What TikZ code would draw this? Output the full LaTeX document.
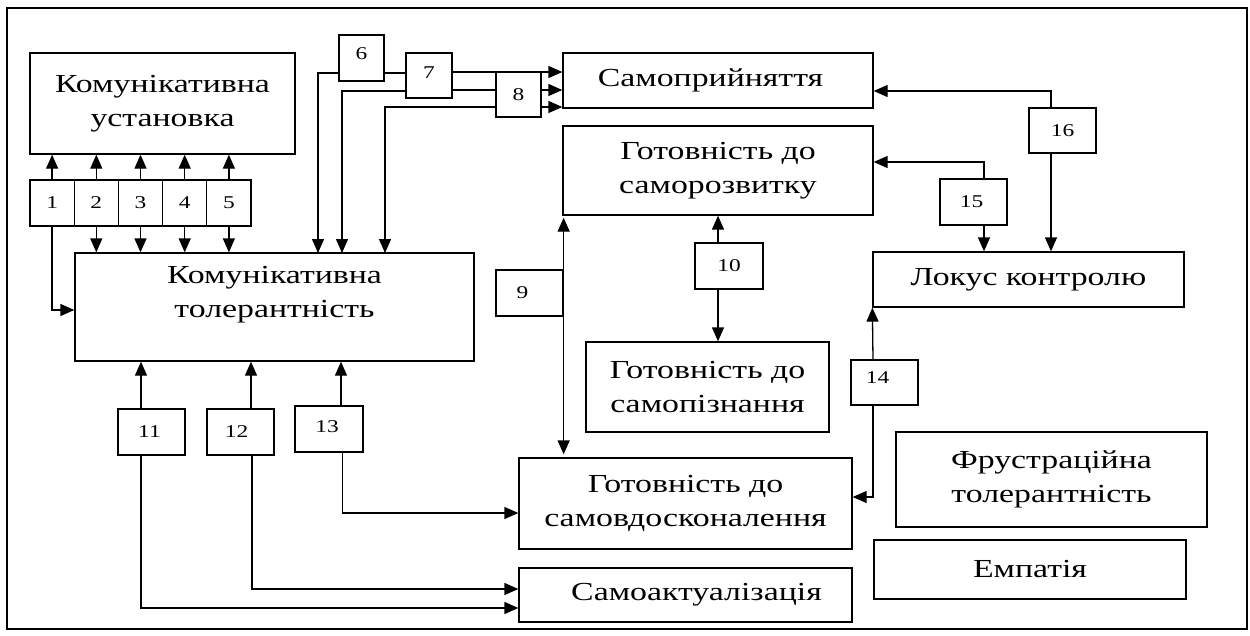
\documentclass[tikz,border=0pt]{standalone}
\usepackage{fontspec}
\setmainfont{Liberation Serif}[FakeStretch=1.3]
\usetikzlibrary{arrows.meta}
\begin{document}
\begin{tikzpicture}[x=1pt,y=-1pt,
  bx/.style={draw, line width=1.3pt, inner sep=0pt, align=center, font=\fontsize{26}{34}\selectfont},
  nb/.style={draw, line width=1.3pt, inner sep=0pt, align=center, font=\fontsize{18}{20}\selectfont},
  ln/.style={line width=1.3pt},
  arr/.style={line width=1.3pt, -{Triangle[length=14pt,width=12pt]}}]
\useasboundingbox (0,0) rectangle (1250,635);
\node[draw, line width=1.3pt, minimum width=1240pt, minimum height=621pt] (frame) at (627,318.5) {};
% big boxes
\node[bx, minimum width=265pt, minimum height=101pt] (ust) at (162.5,103.5) {Комунікативна\\установка};
\node[bx, minimum width=399pt, minimum height=108pt] (tol) at (274.5,307) {Комунікативна\\толерантність\rule[-30pt]{0pt}{0pt}};
\node[bx, minimum width=310pt, minimum height=55pt] (samopr) at (718,80.5) {\hspace*{-15pt}Самоприйняття};
\node[bx, minimum width=310pt, minimum height=89pt] (rozv) at (718,170.5) {Готовність до\\саморозвитку};
\node[bx, minimum width=243pt, minimum height=90pt] (piz) at (707.5,387) {Готовність до\\самопізнання};
\node[bx, minimum width=333pt, minimum height=91pt] (vdos) at (685.5,503.5) {Готовність до\\самовдосконалення\rule[-6pt]{0pt}{0pt}};
\node[bx, minimum width=333pt, minimum height=54pt] (akt) at (685.5,595) {\hspace*{22pt}Самоактуалізація};
\node[bx, minimum width=311pt, minimum height=55pt] (lok) at (1028.5,279.5) {Локус контролю};
\node[bx, minimum width=311pt, minimum height=95pt] (frus) at (1051.5,479.5) {Фрустраційна\\толерантність};
\node[bx, minimum width=312pt, minimum height=59pt] (emp) at (1030,569.5) {Емпатія};
% number boxes
\node[nb, minimum width=44.2pt, minimum height=46pt] (b1) at (52.1,203) {1};
\node[nb, minimum width=44.2pt, minimum height=46pt] (b2) at (96.3,203) {2};
\node[nb, minimum width=44.2pt, minimum height=46pt] (b3) at (140.5,203) {3};
\node[nb, minimum width=44.2pt, minimum height=46pt] (b4) at (184.7,203) {4};
\node[nb, minimum width=44.2pt, minimum height=46pt] (b5) at (228.9,203) {5};
\node[nb, minimum width=45pt, minimum height=46pt] (b6) at (361.5,58) {\raisebox{8pt}{6}};
\node[nb, minimum width=46pt, minimum height=45pt] (b7) at (429,75.5) {\raisebox{6pt}{7}};
\node[nb, minimum width=45pt, minimum height=45pt] (b8) at (518.5,94.5) {8};
\node[nb, minimum width=67pt, minimum height=46pt] (b9) at (529.5,293) {\hspace*{-14pt}9};
\node[nb, minimum width=68pt, minimum height=46pt] (b10) at (729,266) {10};
\node[nb, minimum width=67pt, minimum height=46pt] (b11) at (151.5,432) {\hspace*{-4pt}11};
\node[nb, minimum width=67pt, minimum height=46pt] (b12) at (240.5,432) {\hspace*{-8pt}12};
\node[nb, minimum width=68pt, minimum height=46pt] (b13) at (329,429) {\hspace*{-4pt}13\rule[-4pt]{0pt}{0pt}};
\node[nb, minimum width=67pt, minimum height=45pt] (b14) at (884.5,382.5) {\hspace*{-14pt}14\rule[-10pt]{0pt}{0pt}};
\node[nb, minimum width=67pt, minimum height=46pt] (b15) at (973.5,202) {\hspace*{-4pt}15};
\node[nb, minimum width=67pt, minimum height=45pt] (b16) at (1062.5,130.5) {16};
% free ends on top of tolerance box
\coordinate (t6) at (318,253);
\coordinate (t7) at (342,253);
\coordinate (t8) at (385,253);
% 1-5
\foreach \b in {b1,b2,b3,b4,b5}{\draw[arr] (\b.north) -- (\b.north |- ust.south);}
\foreach \b in {b2,b3,b4,b5}{\draw[arr] (\b.south) -- (\b.south |- tol.north);}
\draw[arr] (b1.south) |- ([yshift=-3pt]tol.west);
% 6,7,8
\draw[arr] ([yshift=-15pt]b6.west) -| (t6);
\draw[ln] ([yshift=-15pt]b6.east) -- ([yshift=-15pt]b6.east -| b7.west);
\draw[arr] ([yshift=3.5pt]b7.east) -- ([yshift=3.5pt]b7.east -| samopr.west);
\draw[arr] ([yshift=-15.5pt]b7.west) -| (t7);
\draw[ln] ([yshift=-14.5pt]b7.east) -- ([yshift=-14.5pt]b7.east -| b8.west);
\draw[arr] ([yshift=4.5pt]b8.east) -- ([yshift=4.5pt]b8.east -| samopr.west);
\draw[arr] ([yshift=-12.5pt]b8.west) -| (t8);
\draw[arr] ([yshift=-12.5pt]b8.east) -- ([yshift=-12.5pt]b8.east -| samopr.west);
% 9, 10
\draw[arr] (b9.east) -- ([yshift=-2pt]b9.east |- rozv.south);
\draw[arr] (b9.east) -- ([yshift=3pt]b9.east |- vdos.north);
\draw[arr] ([xshift=-11pt]b10.north) -- ([xshift=-11pt]b10.north |- rozv.south);
\draw[arr] ([xshift=-11pt]b10.south) -- ([xshift=-11pt]b10.south |- piz.north);
% 11, 12, 13
\draw[arr] ([xshift=-10.5pt]b11.north) -- ([xshift=-10.5pt]b11.north |- tol.south);
\draw[arr] ([xshift=-10.5pt]b11.south) |- ([yshift=-13pt]akt.west);
\draw[arr] ([xshift=10.5pt]b12.north) -- ([xshift=10.5pt]b12.north |- tol.south);
\draw[arr] ([xshift=11.5pt]b12.south) |- ([yshift=6pt]akt.west);
\draw[arr] ([xshift=12pt]b13.north) -- ([xshift=12pt]b13.north |- tol.south);
\draw[arr] ([xshift=13.5pt]b13.south) |- ([yshift=-9.5pt]vdos.west);
% 14, 15, 16
\draw[arr] ([xshift=-11.5pt]b14.north) -- (lok.south west);
\draw[arr] ([xshift=-11.5pt]b14.south) |- ([yshift=6.5pt]vdos.east);
\draw[arr] ([xshift=10.5pt]b15.north) |- ([yshift=8.5pt]rozv.east);
\draw[arr] ([xshift=10.5pt]b15.south) -- ([xshift=10.5pt]b15.south |- lok.north);
\draw[arr] ([xshift=-11.5pt]b16.north) |- ([yshift=-10.5pt]samopr.east);
\draw[arr] ([xshift=-11.5pt]b16.south) -- ([xshift=-11.5pt]b16.south |- lok.north);
\end{tikzpicture}
\end{document}
